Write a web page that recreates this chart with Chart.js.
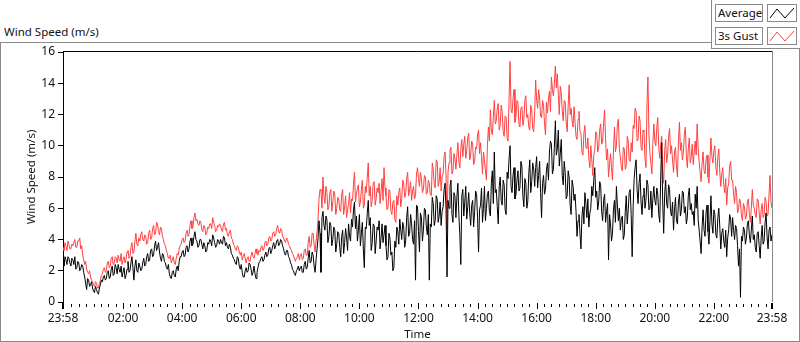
<!DOCTYPE html>
<html>
<head>
<meta charset="utf-8">
<title>Wind Speed (m/s)</title>
<script src="https://cdn.jsdelivr.net/npm/chart.js"></script>
<style>
    html, body { margin: 0; padding: 0; background: #fff; }
    body {
        width: 800px; height: 342px; position: relative; overflow: hidden;
        font-family: 'Noto Sans', sans-serif; font-size: 11.5px; color: #111;
    }
    .frame {
        position: absolute; left: 0; top: 42px; width: 798px; height: 298px;
        border: 1px solid #8a8a8a;
    }
    .caption { position: absolute; left: 4px; top: 24px; white-space: nowrap; }
    .legend {
        position: absolute; left: 711px; top: -1px; width: 90px; height: 48px;
        border: 1px solid #8a8a8a; background: #fff;
    }
    .item { position: absolute; left: 3px; height: 18px; }
    .item .name {
        position: absolute; left: 0; top: 0; width: 44px; height: 16px;
        border: 1px solid #8a8a8a; line-height: 16px; padding-left: 2px;
        white-space: nowrap;
    }
    .item svg {
        position: absolute; left: 52px; top: 0; width: 28px; height: 16px;
        border: 1px solid #8a8a8a;
    }
    #chart { position: absolute; left: 0; top: 0; }
</style>
</head>
<body>
    <div class="frame"></div>
    <div class="caption">Wind Speed (m/s)</div>
    <div class="legend">
        <div class="item" style="top:4px">
            <div class="name">Average</div>
            <svg viewBox="0 0 28 16"><polyline points="2,13 9,4 17,13 26,3" fill="none" stroke="#000" stroke-width="1"/></svg>
        </div>
        <div class="item" style="top:27px">
            <div class="name">3s Gust</div>
            <svg viewBox="0 0 28 16"><polyline points="2,13 9,4 17,13 26,3" fill="none" stroke="#ff4040" stroke-width="1"/></svg>
        </div>
    </div>
    <canvas id="chart" width="800" height="342"></canvas>

<script>
    // samples every 2 minutes, from 23:58 of the previous day to 23:58
    const startMinute = -2;
    const endMinute = 1438;

    const averageSpeed = [
        2.6,2.3,2.9,2.7,2.4,2.9,2.8,2.5,2.3,2.8,2.7,2.4,2.9,2.1,2.2,2.6,2.5,2.0,2.1,2.4,2.3,1.9,1.6,1.2,0.8,1.5,1.4,1.0,1.1,1.3,0.9,0.7,0.6,1.0,0.8,0.6,0.5,0.9,1.1,1.4,
        1.3,1.6,1.7,1.4,1.5,1.9,2.0,1.5,1.6,2.1,2.3,1.7,1.8,2.4,2.2,1.8,2.4,2.1,1.9,2.3,1.6,1.9,2.2,1.5,1.7,2.1,2.6,1.9,2.0,2.5,2.9,2.2,1.4,2.3,2.7,2.0,1.9,2.5,2.3,2.0,
        2.1,2.5,2.8,2.3,2.4,2.9,3.1,2.6,2.7,3.3,3.4,2.9,3.0,3.6,3.9,3.3,3.5,3.8,3.2,2.8,2.6,3.1,3.0,2.6,2.5,2.2,2.1,2.4,1.8,1.6,1.5,1.9,2.0,1.7,1.6,2.1,2.3,2.0,2.6,2.9,
        2.9,3.2,3.3,2.9,3.0,3.5,3.6,3.2,3.4,3.9,4.1,3.6,3.7,4.2,4.5,4.0,3.9,3.5,3.6,4.0,4.0,3.7,3.4,3.8,3.6,3.2,3.3,3.8,3.7,4.0,3.9,3.6,4.3,4.1,3.8,3.5,3.6,4.0,3.9,3.7,
        4.0,3.8,3.7,4.2,4.1,3.6,3.8,3.5,3.4,3.7,3.5,3.1,3.0,2.8,2.7,2.5,2.4,2.9,2.8,2.3,2.1,2.4,1.9,1.6,1.6,2.0,2.2,1.9,2.0,2.5,2.4,2.1,1.7,1.9,2.3,1.8,1.5,1.9,2.2,2.5,
        2.6,2.8,2.9,2.6,2.7,3.0,3.2,2.9,3.0,3.4,3.5,3.1,3.3,3.6,3.8,3.4,3.6,3.9,4.0,3.6,3.7,4.0,3.9,3.6,3.4,3.1,3.0,3.3,3.3,2.9,2.8,2.5,2.4,2.1,2.0,1.8,1.7,2.0,2.1,2.3,
        2.0,2.2,2.3,1.9,1.9,2.4,2.6,2.1,2.2,2.8,3.3,2.5,2.6,3.2,3.0,2.3,1.9,2.7,3.4,4.1,5.2,4.4,1.9,5.4,5.8,4.9,4.6,5.5,5.3,3.8,4.2,5.1,4.9,3.6,4.0,4.8,4.6,3.2,3.7,4.5,
        4.4,3.5,2.9,4.2,4.6,3.1,3.8,4.7,4.1,3.3,5.0,4.2,3.9,5.3,4.8,5.9,6.4,4.7,5.5,3.9,4.6,5.6,3.6,4.4,5.1,3.4,2.2,4.8,4.7,5.7,6.5,4.9,5.4,3.3,3.8,5.0,4.9,3.1,3.9,4.8,
        4.6,5.2,3.4,4.1,5.0,3.8,4.3,4.9,3.6,2.7,2.9,4.4,4.1,3.0,3.2,2.0,2.2,3.9,3.5,4.8,4.5,3.7,5.3,4.6,4.0,5.1,4.8,3.5,3.9,5.4,6.1,4.2,4.4,5.6,5.0,4.0,3.7,5.2,1.4,6.2,
        6.1,4.5,3.2,5.7,5.4,3.9,4.6,6.0,5.9,4.8,4.3,5.6,1.4,5.0,4.8,6.7,6.3,4.9,5.2,6.8,6.6,5.1,5.5,6.4,4.9,5.8,6.1,7.2,7.6,5.9,1.6,6.5,6.0,7.4,7.8,5.6,5.1,7.0,6.8,5.4,
        6.7,7.6,5.6,4.3,2.4,6.8,7.2,5.5,6.4,7.4,5.3,6.1,7.0,5.7,4.9,6.2,6.5,4.8,5.8,7.1,6.9,5.4,3.2,5.9,6.2,7.3,5.1,6.0,7.4,5.2,6.0,6.9,7.1,5.8,5.5,7.6,8.4,6.3,9.6,7.0,
        7.2,6.1,5.0,7.4,8.0,6.5,6.2,7.8,7.5,5.9,5.6,8.3,7.9,9.2,10.0,7.4,7.0,8.1,8.6,6.6,6.9,7.8,8.4,7.1,7.3,9.0,8.7,6.8,6.1,7.9,7.6,6.0,6.4,8.2,9.1,7.0,7.7,8.9,8.5,7.4,
        8.6,9.3,7.3,8.1,9.0,7.0,5.4,7.6,8.1,6.9,7.2,8.5,8.9,7.8,9.6,10.3,10.1,8.2,8.5,9.9,11.6,9.4,9.8,11.0,8.7,9.5,10.4,8.1,7.5,9.0,8.3,6.6,6.8,8.4,8.0,6.2,5.6,7.8,7.4,6.5,
        6.9,5.8,4.2,5.2,5.6,4.4,3.4,5.5,6.1,5.0,7.0,6.3,5.4,6.6,4.8,5.7,6.0,7.4,6.8,7.8,8.6,6.7,7.1,5.9,6.4,7.7,7.5,5.8,5.2,6.5,6.9,5.1,5.8,6.3,2.7,5.6,5.0,3.9,4.4,5.9,
        6.5,5.1,7.4,6.2,5.2,6.0,4.6,5.3,5.5,4.0,4.3,5.8,6.8,5.0,5.9,7.0,7.2,5.6,2.9,6.1,7.9,8.6,9.1,7.2,6.3,7.6,8.2,6.4,5.6,6.8,7.3,6.0,6.5,7.8,7.5,5.9,6.0,7.1,5.4,6.6,
        7.4,6.5,6.2,7.3,6.9,5.6,5.1,8.0,10.2,6.4,4.4,6.9,7.8,6.3,6.0,7.5,7.2,5.8,5.5,6.4,4.6,5.9,6.7,5.2,5.0,6.4,6.9,5.5,5.9,7.1,7.0,5.7,6.1,5.0,5.4,6.8,7.3,5.9,6.3,5.6,
        5.8,4.9,6.9,6.0,7.4,5.3,4.6,3.9,3.1,4.8,5.9,4.6,4.2,5.7,6.2,4.5,3.7,5.2,6.8,5.0,4.4,5.9,5.6,4.3,4.1,5.4,6.0,4.8,3.4,4.4,4.7,3.9,3.5,4.6,2.9,4.1,4.6,5.6,5.3,4.2,
        5.4,4.6,4.0,4.9,4.7,3.6,2.3,3.4,0.3,4.2,3.9,4.8,4.6,3.7,4.1,5.0,5.2,4.3,3.8,4.6,5.5,4.0,4.3,3.5,3.2,4.4,4.5,3.6,2.8,4.1,4.9,3.7,3.9,5.1,5.7,4.2,3.4,4.6,4.8,3.9,
        4.3
    ];

    const gustSpeed = [
        3.5,3.3,3.8,3.6,3.3,3.9,3.7,3.4,3.4,3.7,3.6,3.8,4.0,3.5,3.5,3.9,3.9,4.1,3.4,3.6,3.0,2.7,2.4,2.6,2.1,1.9,1.8,2.0,1.6,1.4,1.3,1.1,1.0,1.3,1.2,0.9,0.9,1.2,1.4,1.7,
        1.8,2.1,2.2,1.9,2.0,2.5,2.6,2.2,2.3,2.8,2.9,2.4,2.5,2.9,2.8,2.5,3.0,2.7,2.6,3.1,2.4,2.7,2.9,2.5,2.7,3.2,3.3,2.8,2.9,3.5,3.8,3.1,3.2,3.9,4.4,3.7,3.6,4.1,3.9,4.3,
        4.5,4.0,3.9,4.3,4.2,3.7,3.8,4.4,4.6,4.0,4.1,4.7,4.9,4.3,4.4,5.1,5.0,4.5,4.3,4.8,4.7,4.2,4.0,3.7,3.6,3.3,3.1,2.8,2.8,3.0,2.5,2.7,2.9,2.5,2.4,2.8,3.1,3.0,3.4,3.6,
        3.7,4.0,4.1,3.8,3.9,4.4,4.6,4.2,4.3,4.9,5.2,4.7,4.8,5.4,5.7,5.2,5.3,5.0,4.9,5.2,5.1,4.6,4.5,4.9,4.8,4.3,4.4,4.8,4.7,5.0,5.0,4.7,5.4,5.1,4.9,4.5,4.6,4.9,4.8,5.0,
        4.9,4.6,4.5,5.0,5.1,4.6,4.7,4.3,4.2,4.5,4.6,4.1,4.0,3.7,3.6,3.4,3.3,3.6,3.5,3.2,3.0,3.2,2.7,2.9,3.1,2.8,2.5,2.8,2.9,2.6,2.6,3.0,3.2,2.9,2.8,3.1,3.4,3.1,3.0,3.3,
        3.2,3.5,3.6,3.3,3.4,3.8,3.9,3.6,3.7,4.1,4.2,3.9,4.0,4.4,4.5,4.2,4.3,4.7,4.9,4.5,4.4,4.7,4.6,4.2,4.1,3.9,3.8,4.1,4.0,3.7,3.6,3.4,3.3,3.1,3.0,2.8,2.6,2.8,2.9,3.1,
        2.7,3.0,3.1,2.7,2.8,3.3,3.4,3.0,3.0,3.8,4.2,3.5,3.6,4.4,4.4,3.7,3.2,3.9,4.5,5.3,6.6,7.2,7.1,6.0,8.0,6.8,6.3,7.4,7.0,5.9,6.1,7.0,7.2,5.8,6.4,7.1,6.9,5.6,6.0,6.7,
        6.6,5.9,5.8,6.9,7.2,5.6,6.1,6.8,5.4,5.9,6.3,7.0,5.7,6.6,6.5,7.5,8.3,6.4,6.9,7.3,7.5,6.1,6.4,7.2,7.8,6.0,6.2,7.4,7.0,8.0,8.9,6.8,7.4,6.1,6.5,7.6,7.7,6.2,6.6,7.3,
        7.0,7.6,6.3,7.1,7.9,6.5,8.6,7.3,6.8,5.9,6.0,7.2,7.1,5.8,5.6,6.4,6.5,5.3,5.1,6.8,6.2,7.0,7.3,6.1,6.6,7.8,7.6,6.7,6.9,7.9,8.3,6.8,7.2,7.7,6.5,7.1,7.4,6.6,6.8,8.2,
        8.6,7.9,7.4,8.3,7.9,7.0,7.2,8.1,8.0,6.9,7.0,7.8,7.6,6.9,6.8,8.9,8.5,7.5,7.3,9.1,9.0,7.4,7.7,8.6,7.1,8.0,8.2,9.3,9.6,8.1,4.6,8.3,8.9,9.7,9.9,8.2,8.4,9.5,9.2,8.5,
        9.4,10.2,9.0,8.6,9.8,10.4,9.3,10.1,10.6,9.2,9.7,10.5,10.8,9.1,9.4,10.3,10.1,8.8,9.0,9.9,9.8,10.7,11.0,9.5,10.2,9.3,8.2,9.6,9.1,8.4,7.8,10.0,11.2,10.3,12.3,11.0,10.7,11.8,12.9,11.4,
        11.6,12.4,12.7,11.0,11.3,12.6,12.2,10.9,10.6,11.9,11.8,10.5,10.3,13.1,15.4,12.3,12.1,13.0,13.6,11.5,11.9,12.9,12.8,11.4,11.2,12.4,12.5,11.3,11.7,12.9,13.2,11.8,12.0,11.2,11.0,12.6,12.3,11.1,10.9,12.2,
        14.2,12.9,12.4,13.6,13.0,11.9,11.8,12.9,12.6,11.4,10.7,12.8,12.1,13.0,13.5,12.2,14.4,13.6,13.2,14.0,15.1,13.7,14.6,13.3,12.0,13.8,13.4,12.2,11.6,12.9,12.8,11.5,10.9,12.6,13.9,12.0,12.4,11.6,11.2,12.5,
        11.5,10.6,10.4,11.7,12.2,10.9,10.8,9.6,9.4,10.8,11.3,9.9,9.8,10.5,9.2,8.6,10.0,9.1,8.1,9.4,9.7,10.9,10.8,9.6,9.9,11.0,11.4,10.1,10.3,11.5,12.3,10.4,9.1,9.8,8.0,8.8,9.5,8.6,7.8,9.6,
        11.2,9.6,10.0,11.4,11.7,9.8,9.3,8.6,8.4,9.9,9.8,8.5,8.7,10.6,10.3,9.1,9.0,10.2,9.6,11.3,11.1,12.4,12.2,10.3,10.4,11.9,11.6,9.9,9.7,11.0,10.9,9.2,8.6,12.6,14.4,10.8,9.5,8.9,8.2,10.1,
        11.4,10.3,10.0,11.2,11.8,9.9,9.2,10.1,10.6,8.4,7.6,9.7,10.4,8.9,9.4,10.6,11.1,9.5,10.0,9.1,8.3,9.6,9.9,8.7,8.0,10.3,11.5,9.7,10.2,9.1,9.6,10.8,11.2,9.4,8.6,9.8,10.5,8.9,9.3,10.1,
        8.8,9.6,10.3,9.4,11.4,9.8,9.0,8.3,7.7,8.9,9.6,8.4,8.2,9.1,9.4,8.0,7.6,9.2,10.5,9.3,8.9,9.7,10.0,8.6,8.1,9.3,9.8,8.3,7.4,8.2,8.6,7.5,7.0,7.9,6.2,7.3,7.6,8.7,9.0,7.8,
        7.8,6.9,6.3,7.4,7.0,5.7,5.9,6.6,6.4,5.5,5.2,6.3,6.1,5.3,5.5,6.4,6.6,5.6,5.1,6.0,7.2,6.2,6.0,5.6,5.4,6.6,6.5,5.7,5.0,5.9,6.3,5.4,5.6,6.7,6.4,5.5,5.6,6.9,8.1,6.4,
        6.0
    ];

    // labelled ticks (minutes after midnight) and y ticks
    const timeTicks = [-2, 120, 240, 360, 480, 600, 720, 840, 960, 1080, 1200, 1320, 1438];
    const speedTicks = [0, 2, 4, 6, 8, 10, 12, 14, 16];
    const minorStep = 15;

    // samples are evenly spaced over the whole day
    const toPoints = arr => {
        const step = (endMinute - startMinute) / (arr.length - 1);
        return arr.map((v, i) => ({ x: startMinute + i * step, y: v }));
    };

    const fmtTime = m => {
        const t = (m + 1440) % 1440;
        const h = Math.floor(t / 60), mm = t % 60;
        return String(h).padStart(2, '0') + ':' + String(mm).padStart(2, '0');
    };

    const tickFont = { family: "'Noto Sans', sans-serif", size: 12 };
    const titleFont = { family: "'Noto Sans', sans-serif", size: 11.5 };

    // plot frame and the time axis tick marks
    const frameAndTicks = {
        id: 'frameAndTicks',
        afterDraw(chart) {
            const { ctx, chartArea: a, scales: { x } } = chart;
            ctx.save();
            ctx.lineWidth = 1;
            ctx.strokeStyle = '#000';
            ctx.beginPath();
            ctx.moveTo(a.left, a.top - 0.5);
            ctx.lineTo(a.right, a.top - 0.5);
            ctx.stroke();
            ctx.strokeStyle = '#8a8a8a';
            ctx.beginPath();
            ctx.moveTo(a.right + 0.5, a.top - 1);
            ctx.lineTo(a.right + 0.5, a.bottom);
            ctx.stroke();

            ctx.strokeStyle = '#000';
            for (let t = minorStep; t < endMinute; t += minorStep) {
                const px = Math.round(x.getPixelForValue(t)) + 0.5;
                const major = timeTicks.includes(t);
                ctx.beginPath();
                ctx.moveTo(px, a.bottom + (major ? 1 : 2));
                ctx.lineTo(px, a.bottom + (major ? 7 : 5));
                ctx.stroke();
            }
            ctx.lineWidth = 2;
            [startMinute, endMinute].forEach(t => {
                const px = Math.round(x.getPixelForValue(t));
                ctx.beginPath();
                ctx.moveTo(px, a.bottom + 1);
                ctx.lineTo(px, a.bottom + 7);
                ctx.stroke();
            });
            ctx.restore();
        }
    };

    new Chart(document.getElementById('chart'), {
        type: 'line',
        data: {
            datasets: [{
                label: 'Average',
                data: toPoints(averageSpeed),
                borderColor: '#000',
                borderWidth: 1,
                pointRadius: 0,
                tension: 0
            }, {
                label: '3s Gust',
                data: toPoints(gustSpeed),
                borderColor: '#ff4040',
                borderWidth: 1,
                pointRadius: 0,
                tension: 0
            }]
        },
        options: {
            responsive: false,
            animation: false,
            devicePixelRatio: 1,
            layout: { padding: { left: 0, top: 52, right: 28, bottom: 0 } },
            plugins: {
                legend: { display: false },
                tooltip: { enabled: false }
            },
            scales: {
                x: {
                    type: 'linear',
                    min: startMinute,
                    max: endMinute,
                    afterBuildTicks: s => { s.ticks = timeTicks.map(v => ({ value: v })); },
                    afterFit: s => { s.height = 40; s.paddingLeft = 0; s.paddingRight = 0; },
                    grid: { display: false, drawTicks: false },
                    border: { display: false },
                    ticks: {
                        autoSkip: false, maxRotation: 0, padding: 9,
                        color: '#111', font: tickFont,
                        callback: v => fmtTime(v)
                    },
                    title: {
                        display: true, text: 'Time', color: '#111', font: titleFont,
                        padding: { top: 0, bottom: 0 }
                    }
                },
                y: {
                    min: 0,
                    max: 16,
                    afterBuildTicks: s => { s.ticks = speedTicks.map(v => ({ value: v })); },
                    afterFit: s => { s.width = 63; s.paddingTop = 0; s.paddingBottom = 0; },
                    grid: { drawOnChartArea: false, drawTicks: true, tickLength: 5, tickColor: '#000' },
                    border: { display: true, color: '#000', width: 1 },
                    ticks: { padding: 3, color: '#111', font: tickFont },
                    title: {
                        display: true, text: 'Wind Speed (m/s)', color: '#111', font: titleFont,
                        padding: { top: 25, bottom: 0 }
                    }
                }
            }
        },
        plugins: [frameAndTicks]
    });
</script>
</body>
</html>
